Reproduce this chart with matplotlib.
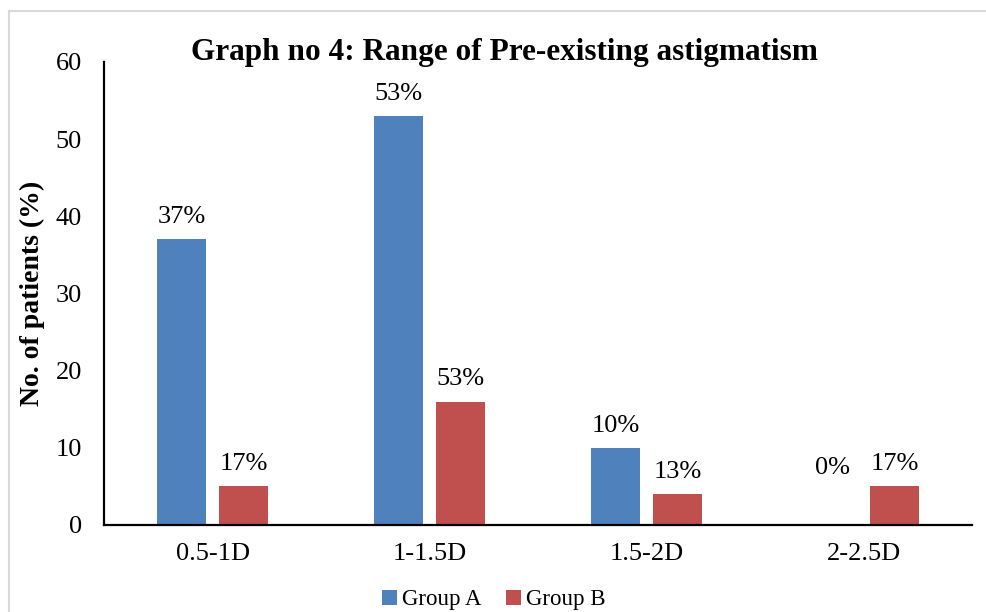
import matplotlib
matplotlib.use("Agg")
import matplotlib.pyplot as plt
from matplotlib.lines import Line2D
import numpy as np

categories = ["0.5-1D", "1-1.5D", "1.5-2D", "2-2.5D"]
group_a = [37, 53, 10, 0]
group_b = [5, 16, 4, 5]
labels_a = ["37%", "53%", "10%", "0%"]
labels_b = ["17%", "53%", "13%", "17%"]

blue = "#4F81BD"
red = "#C0504D"

plt.rcParams["font.family"] = ["Liberation Serif", "DejaVu Serif"]

fig = plt.figure(figsize=(9.87, 6.12), dpi=100)
ax = fig.add_axes([0.1054, 0.1422, 0.8794, 0.7565])

x = np.arange(len(categories))
w = 0.226
off = 0.143
bars_a = ax.bar(x - off, group_a, w, color=blue, label="Group A")
bars_b = ax.bar(x + off, group_b, w, color=red, label="Group B")

for bars, labs in ((bars_a, labels_a), (bars_b, labels_b)):
    for b, lab in zip(bars, labs):
        h = b.get_height()
        dy = 8 if h > 0 else 33
        ax.annotate(lab, (b.get_x() + b.get_width() / 2, h),
                    xytext=(0, dy), textcoords="offset points",
                    ha="center", va="bottom", fontsize=19)

ax.set_xlim(-0.5, 3.5)
ax.set_ylim(0, 60)
ax.set_yticks(range(0, 61, 10))
ax.set_xticks(x)
ax.set_xticklabels(categories)
ax.tick_params(axis="both", length=0, labelsize=19)
ax.tick_params(axis="x", pad=13)
ax.tick_params(axis="y", pad=16)

for s in ("top", "right"):
    ax.spines[s].set_visible(False)
for s in ("left", "bottom"):
    ax.spines[s].set_linewidth(1.6)
    ax.spines[s].set_color("black")

ax.set_ylabel("No. of patients (%)", fontsize=20, fontweight="bold")
ax.yaxis.set_label_coords(-0.068, 0.5)

fig.text(0.511, 0.914, "Graph no 4: Range of Pre-existing astigmatism",
         ha="center", va="center", fontsize=22.5, fontweight="bold")

ax.legend(loc="center", bbox_to_anchor=(0.449, -0.162), ncol=2, frameon=False,
          fontsize=16.5, handlelength=0.65, handleheight=0.65, handletextpad=0.2,
          columnspacing=1.1, borderaxespad=0)

fig.add_artist(Line2D([9 / 987, 9 / 987], [0, 1 - 11 / 612],
                      transform=fig.transFigure, color="#D9D9D9", lw=1.5))
fig.add_artist(Line2D([9 / 987, 1], [1 - 11 / 612, 1 - 11 / 612],
                      transform=fig.transFigure, color="#D9D9D9", lw=1.5))

fig.savefig("out.png", dpi=100)
